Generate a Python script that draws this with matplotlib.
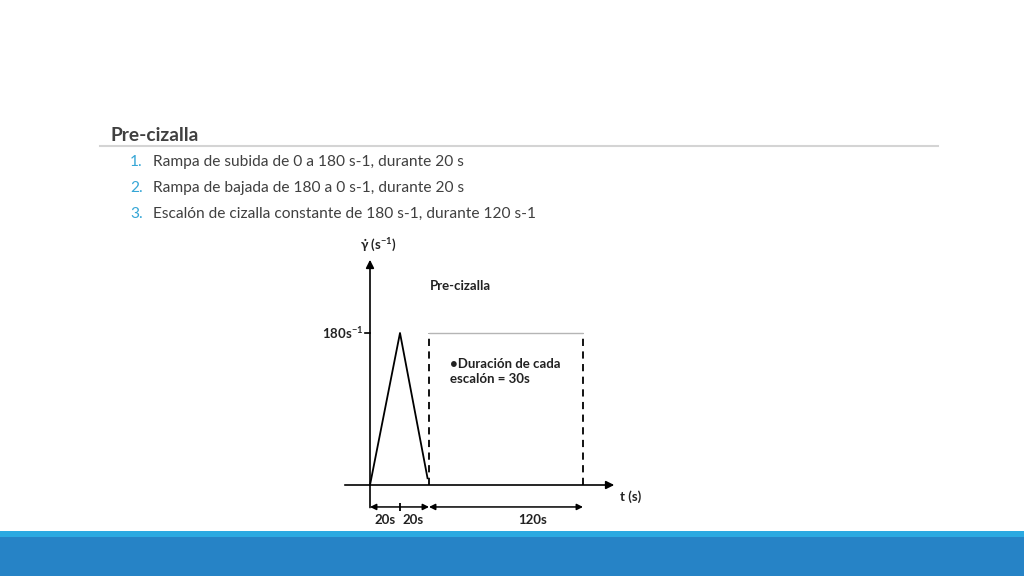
import numpy as np
import matplotlib
matplotlib.use("Agg")
import matplotlib.pyplot as plt
from matplotlib.patches import Rectangle

plt.rcParams["mathtext.default"] = "regular"

# slide text
title = "Pre-cizalla"
list_numbers = ["1.", "2.", "3."]
list_items = [
    "Rampa de subida de 0 a 180 s-1, durante 20 s",
    "Rampa de bajada de 180 a 0 s-1, durante 20 s",
    "Escalón de cizalla constante de 180 s-1, durante 120 s-1",
]

# diagram data (time in s, shear rate in s-1)
ramp_t = [0, 20, 39]
ramp_rate = [0, 180, 8]
step_t = [40, 160]
step_rate = 180
dim_marks = [0, 20, 40, 160]
dim_labels = ["20s", "20s", "120s"]
dim_label_t = [10, 29, 121]
diagram_title = "Pre-cizalla"
note_text = "•Duración de cada\nescalón = 30s"

# the sketch is not drawn to scale: piecewise time axis
KT = np.array([0.0, 20.0, 40.0, 160.0])
KP = np.array([0.0, 30.0, 59.0, 213.0])
SL_LEFT = 1.5
SL_RIGHT = 154.0 / 120.0


def fwd(t):
    t = np.asarray(t, dtype=float)
    out = np.interp(t, KT, KP)
    out = np.where(t < KT[0], KP[0] + (t - KT[0]) * SL_LEFT, out)
    out = np.where(t > KT[-1], KP[-1] + (t - KT[-1]) * SL_RIGHT, out)
    return out


def inv(p):
    p = np.asarray(p, dtype=float)
    out = np.interp(p, KP, KT)
    out = np.where(p < KP[0], KT[0] + (p - KP[0]) / SL_LEFT, out)
    out = np.where(p > KP[-1], KT[-1] + (p - KP[-1]) / SL_RIGHT, out)
    return out


W, H = 1024, 576
fig = plt.figure(figsize=(W / 100, H / 100), dpi=100)
fig.patch.set_facecolor("white")

# background / slide layer in pixel coords
bg = fig.add_axes([0, 0, 1, 1])
bg.set_xlim(0, W)
bg.set_ylim(H, 0)
bg.axis("off")

bg.add_patch(Rectangle((0, 531), W, 6, color="#2BA9E1", lw=0))
bg.add_patch(Rectangle((0, 537), W, 39, color="#2683C6", lw=0))
bg.plot([100, 938], [146, 146], color="#d4d4d4", lw=1.5)

bg.text(110, 141, title, fontsize=13.8, fontweight="bold", color="#404040",
        family="Lato", va="baseline")
for i, (num, item) in enumerate(zip(list_numbers, list_items)):
    y = 166 + i * 26
    bg.text(130, y, num, fontsize=11.2, color="#35A6D6", family="Lato", va="baseline")
    bg.text(153, y, item, fontsize=11.2, color="#404040", family="Lato", va="baseline")

# diagram axes
left_px, top_px, right_px, bottom_px = 320, 235, 650, 540
ax = fig.add_axes([left_px / W, (H - bottom_px) / H,
                   (right_px - left_px) / W, (bottom_px - top_px) / H])
ax.set_xscale("function", functions=(fwd, inv))
ax.set_xlim(float(inv(left_px - 370)), float(inv(right_px - 370)))
px_per_unit = 152 / 180
ax.set_ylim((485 - bottom_px) / px_per_unit, (485 - top_px) / px_per_unit)
ax.axis("off")

dim_y = -26
arrow_kw = dict(arrowstyle="-|>", color="black", lw=1.2, mutation_scale=12)
ax.annotate("", xy=(float(inv(247)), 0), xytext=(float(inv(-28)), 0), arrowprops=arrow_kw)
ax.annotate("", xy=(0, 270), xytext=(0, dim_y - 4), arrowprops=arrow_kw)

# tick at 180
ax.plot([float(inv(-5)), 0], [step_rate, step_rate], color="black", lw=1.2)

# ramp
ax.plot(ramp_t, ramp_rate, color="black", lw=1.3)

# constant step
ax.vlines(step_t, 0, step_rate, colors="black", linestyles=(0, (4, 3)), lw=1.3)
ax.hlines(step_rate, step_t[0], step_t[1], colors="#b5b5b5", lw=1)

# dimension arrows
dim_kw = dict(arrowstyle="<|-|>", color="black", lw=1.1, mutation_scale=9,
              shrinkA=0, shrinkB=0)
ax.annotate("", xy=(dim_marks[2], dim_y), xytext=(dim_marks[0], dim_y), arrowprops=dim_kw)
ax.annotate("", xy=(dim_marks[3], dim_y), xytext=(dim_marks[2], dim_y), arrowprops=dim_kw)
ax.vlines(dim_marks[1], dim_y - 5, dim_y + 5, colors="black", lw=1.3)

txt = dict(fontsize=9.5, fontweight="bold", color="#222222", family="Lato")
for lab, t in zip(dim_labels, dim_label_t):
    ax.text(t, -42, lab, ha="center", va="center", **txt)

ax.text(float(inv(250)), -14, "t (s)", ha="left", va="center", **txt)
ax.text(float(inv(-7)), step_rate, "180s$^{-1}$", ha="right", va="center", **txt)
ax.text(float(inv(8)), 284, r"$\dot{\gamma}$ (s$^{-1}$)", ha="center", va="center", **txt)
ax.text(float(inv(60)), 236, diagram_title, ha="left", va="center", **txt)
ax.text(float(inv(80)), 150, note_text, ha="left", va="top", linespacing=1.3, **txt)

fig.savefig("out.png", dpi=100)
